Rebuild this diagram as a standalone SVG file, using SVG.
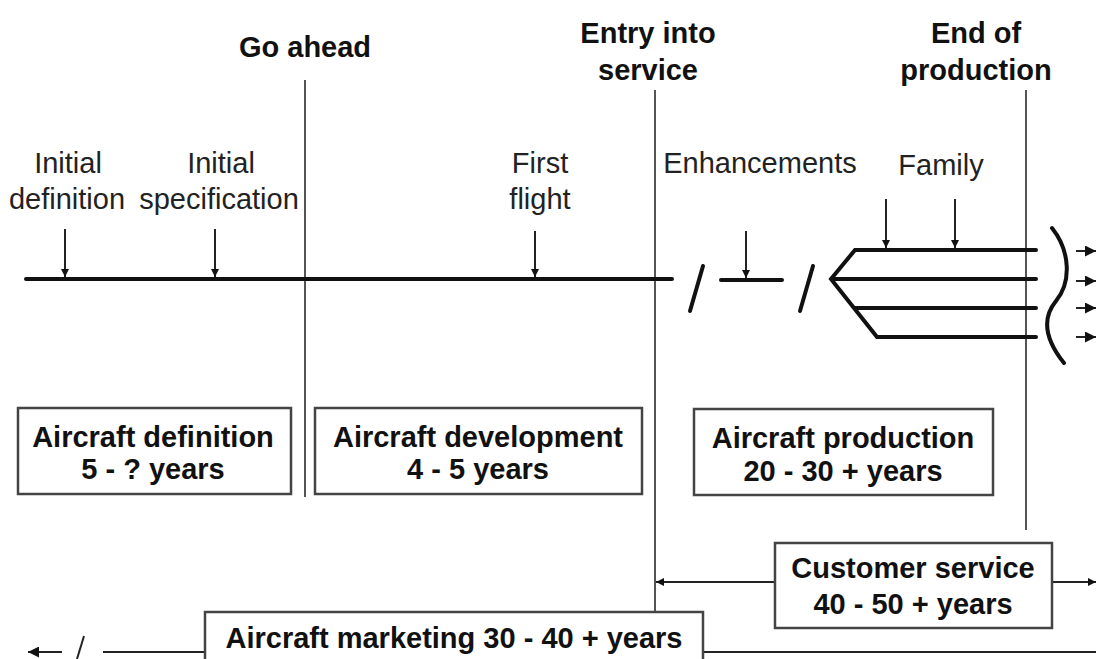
<svg xmlns="http://www.w3.org/2000/svg" width="1096" height="659" viewBox="0 0 1096 659">
<defs>
<style>
.b{font-family:"Liberation Sans",Arial,sans-serif;font-weight:bold;font-size:29px;fill:#111;text-anchor:middle}
.r{font-family:"Liberation Sans",Arial,sans-serif;font-size:29px;fill:#222;text-anchor:middle}
.ms{stroke:#555;stroke-width:2;fill:none}
.tl{stroke:#111;stroke-width:4;fill:none;stroke-linecap:round}
.ar{stroke:#222;stroke-width:2;fill:none}
.box{fill:#fff;stroke:#444;stroke-width:2.5}
</style>
<marker id="ah" viewBox="0 0 10 10" refX="10" refY="5" markerWidth="8" markerHeight="9" markerUnits="userSpaceOnUse" orient="auto">
<path d="M0,0 L10,5 L0,10 z" fill="#111"/>
</marker>
<marker id="ah2" viewBox="0 0 10 10" refX="10" refY="5" markerWidth="11" markerHeight="11" markerUnits="userSpaceOnUse" orient="auto">
<path d="M0,0 L10,5 L0,10 z" fill="#111"/>
</marker>
</defs>
<rect width="1096" height="659" fill="#fff"/>

<g id="connectors">
<line class="ms" x1="305" y1="80" x2="305" y2="497"/>
<line class="ms" x1="655" y1="90" x2="655" y2="612"/>
<line class="ms" x1="1026" y1="90" x2="1026" y2="530"/>
<line class="tl" x1="26" y1="279" x2="672" y2="279"/>
<line class="tl" x1="690" y1="311" x2="703" y2="266"/>
<line class="tl" x1="721" y1="280" x2="782" y2="280"/>
<line class="tl" x1="800" y1="311" x2="813" y2="266"/>
<path class="tl" d="M1036,250 L855,250 L831,279 L877,337 L1036,337 M831,279 L1036,279 M854,308 L1036,308" stroke-linejoin="miter"/>
<path class="tl" d="M1052,228 C1071,252 1071,283 1056,301 C1042,318 1044,338 1064,363" stroke-width="3.5"/>
<line class="ar" x1="65" y1="229" x2="65" y2="277" marker-end="url(#ah)"/>
<line class="ar" x1="215" y1="229" x2="215" y2="277" marker-end="url(#ah)"/>
<line class="ar" x1="535" y1="231" x2="535" y2="277" marker-end="url(#ah)"/>
<line class="ar" x1="746" y1="231" x2="746" y2="278" marker-end="url(#ah)"/>
<line class="ar" x1="886" y1="199" x2="886" y2="248" marker-end="url(#ah)"/>
<line class="ar" x1="955" y1="199" x2="955" y2="248" marker-end="url(#ah)"/>
<line class="ar" stroke-width="4" x1="1076" y1="251" x2="1096" y2="251" marker-end="url(#ah2)"/>
<line class="ar" stroke-width="4" x1="1076" y1="281" x2="1096" y2="281" marker-end="url(#ah2)"/>
<line class="ar" stroke-width="4" x1="1076" y1="308" x2="1096" y2="308" marker-end="url(#ah2)"/>
<line class="ar" stroke-width="4" x1="1076" y1="337" x2="1096" y2="337" marker-end="url(#ah2)"/>
<line class="ar" stroke-width="2.5" x1="775" y1="582" x2="656" y2="582" marker-end="url(#ah)"/>
<line class="ar" stroke-width="2.5" x1="1052" y1="582" x2="1096" y2="582" marker-end="url(#ah)"/>
<line class="ar" stroke-width="3" x1="62" y1="652" x2="28" y2="652" marker-end="url(#ah2)"/>
<line class="ar" stroke-width="3.5" x1="77" y1="659" x2="84" y2="636"/>
<line class="ar" stroke-width="2.5" x1="103" y1="652" x2="205" y2="652"/>
<line class="ar" stroke-width="2.5" x1="703" y1="652" x2="1096" y2="652"/>
</g>

<g id="milestones">
<text class="b" x="305" y="57">Go ahead</text>
<text class="b" x="648" y="43">Entry into</text>
<text class="b" x="648" y="80">service</text>
<text class="b" x="976" y="43">End of</text>
<text class="b" x="976" y="80">production</text>
</g>

<g id="events">
<text class="r" x="68" y="173">Initial</text>
<text class="r" x="67" y="209">definition</text>
<text class="r" x="221" y="173">Initial</text>
<text class="r" x="219" y="209">specification</text>
<text class="r" x="540" y="173">First</text>
<text class="r" x="540" y="209">flight</text>
<text class="r" x="760" y="173">Enhancements</text>
<text class="r" x="941" y="175">Family</text>
</g>

<g id="definition">
<rect class="box" x="18" y="408" width="273" height="86"/>
<text class="b" x="153" y="447">Aircraft definition</text>
<text class="b" x="153" y="479">5 - ? years</text>
</g>
<g id="development">
<rect class="box" x="315" y="408" width="327" height="86"/>
<text class="b" x="478" y="447">Aircraft development</text>
<text class="b" x="478" y="479">4 - 5 years</text>
</g>
<g id="production">
<rect class="box" x="694" y="409" width="299" height="86"/>
<text class="b" x="843" y="448">Aircraft production</text>
<text class="b" x="843" y="481">20 - 30 + years</text>
</g>
<g id="customer-service">
<rect class="box" x="775" y="543" width="277" height="85"/>
<text class="b" x="913" y="578">Customer service</text>
<text class="b" x="913" y="614">40 - 50 + years</text>
</g>
<g id="marketing">
<rect class="box" x="205" y="612" width="498" height="60"/>
<text class="b" x="454" y="648">Aircraft marketing 30 - 40 + years</text>
</g>
</svg>
